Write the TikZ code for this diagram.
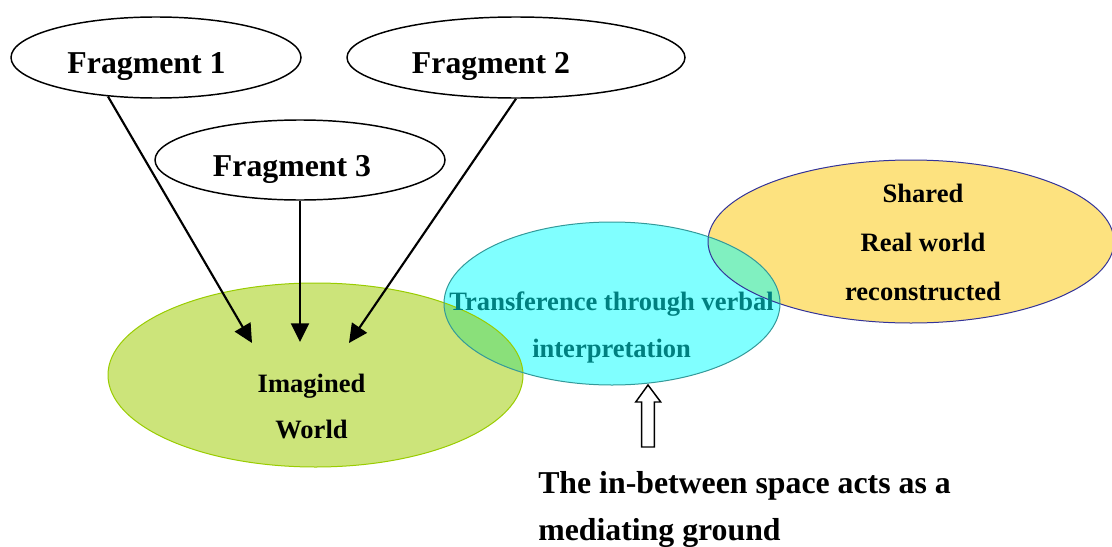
\documentclass[tikz,border=0pt]{standalone}
\usepackage{fontspec}
\setmainfont{Liberation Serif}
\usetikzlibrary{shapes.geometric,arrows.meta}
\definecolor{greenfill}{RGB}{204,228,122}
\definecolor{greenline}{RGB}{153,204,0}
\definecolor{cyanfill}{RGB}{128,255,255}
\definecolor{cyanline}{RGB}{51,153,153}
\definecolor{yellowfill}{RGB}{253,226,127}
\definecolor{yellowline}{RGB}{51,51,153}
\definecolor{mintov}{RGB}{128,240,192}
\definecolor{greenov}{RGB}{138,224,122}
\definecolor{tealtext}{RGB}{0,128,128}
\tikzset{
  fragell/.style={ellipse, draw=black, line width=1.1pt, fill=white, inner sep=0pt},
  bigell/.style={ellipse, inner sep=0pt, draw=none},
  bigtext/.style={font=\bfseries\fontsize{23.85}{35.25}\selectfont, inner sep=0pt, anchor=base},
  midtext/.style={font=\bfseries\fontsize{19.9}{34.5}\selectfont, inner sep=0pt, anchor=base, align=center},
  arr/.style={line width=1.6pt, -{Triangle[length=14pt,width=13.5pt]}},
  hollow/.style={draw=black, line width=1.1pt, fill=white, line join=miter}
}
\begin{document}
\begin{tikzpicture}[x=0.75pt,y=-0.75pt]
\useasboundingbox (0,0) rectangle (1112,546);

% coloured ellipses (fills)
\node[bigell, fill=yellowfill, minimum width=304.5pt, minimum height=122.25pt] (real) at (911,241.5) {};
\node[bigell, fill=greenfill, minimum width=311.25pt, minimum height=138pt] (imag) at (315.5,375) {};
\node[bigell, fill=cyanfill, minimum width=252pt, minimum height=122.25pt] (trans) at (612,303.5) {};

% overlaps
\begin{scope}
  \clip (612,303.5) ellipse [x radius=168, y radius=81.5];
  \fill[mintov] (911,241.5) ellipse [x radius=203, y radius=81.5];
  \fill[greenov] (315.5,375) ellipse [x radius=207.5, y radius=92];
\end{scope}

% borders
\draw[yellowline, line width=0.75pt] (911,241.5) ellipse [x radius=203, y radius=81.5];
\draw[greenline, line width=0.75pt] (315.5,375) ellipse [x radius=207.5, y radius=92];
\draw[cyanline, line width=0.75pt] (612,303.5) ellipse [x radius=168, y radius=81.5];

% fragments
\node[fragell, minimum width=217.5pt, minimum height=60.75pt] (f1) at (156,57.5) {};
\node[fragell, minimum width=253.5pt, minimum height=60.75pt] (f2) at (516,57.5) {};
\node[fragell, minimum width=217.5pt, minimum height=60pt] (f3) at (300,160) {};

\node[bigtext] (t1) at (146.5,73) {Fragment 1};
\node[bigtext] (t2) at (491,73) {Fragment 2};
\node[bigtext] (t3) at (292,176) {Fragment 3};

% arrows
\coordinate (e1) at (252,343);
\coordinate (e3) at (300,342);
\coordinate (e2) at (349,343);
\draw[arr] (f1.219) -- (e1);
\draw[arr] (f3.south) -- (e3);
\draw[arr] (f2.south) -- (e2);

% texts in coloured ellipses (base = last line baseline)
\node[midtext] (timag) at (311.5,438) {Imagined\\World};
\node[midtext, text=tealtext, font=\bfseries\fontsize{19.9}{35.25}\selectfont] (ttrans) at (611.6,357) {Transference through verbal\\interpretation};
\node[midtext, font=\bfseries\fontsize{19.9}{36.4}\selectfont] (treal) at (923,300) {Shared\\Real world\\reconstructed};

% hollow arrow
\coordinate (tip) at (648,385);
\draw[hollow] (tip) -- ++(12.7,17) -- ++(-6.4,0) -- ++(0,45) -- ++(-12.6,0) -- ++(0,-45) -- ++(-6,0) -- cycle;

% bottom text
\node[bigtext, anchor=base west, align=left] (note) at (538,540) {The in-between space acts as a\\mediating ground};
\end{tikzpicture}
\end{document}
